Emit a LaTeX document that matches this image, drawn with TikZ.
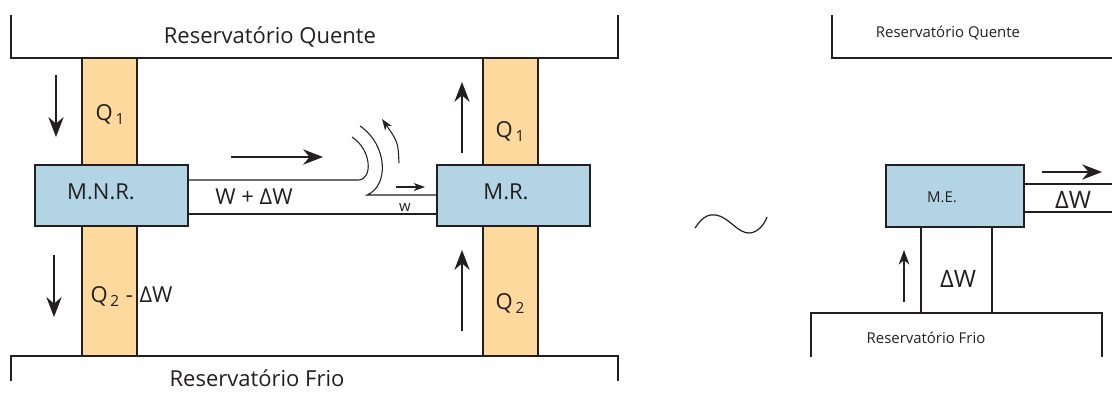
\documentclass[tikz,border=0pt]{standalone}
\usepackage{fontspec}
\setmainfont{Open Sans}
\usetikzlibrary{arrows.meta, positioning}

\definecolor{heatfill}{RGB}{253,217,158}
\definecolor{enginefill}{RGB}{179,212,228}
\definecolor{edge}{RGB}{35,31,32}
\newcommand{\lowidx}[1]{\kern2pt\raisebox{-3.5pt}{\fontsize{11.5}{12}\selectfont #1}}

\begin{document}
\begin{tikzpicture}[
    x=0.75pt, y=-0.75pt,
    line width=0.8pt, color=edge,
    column/.style = {rectangle, draw=edge, fill=heatfill, line width=0.9pt, outer sep=0pt, inner sep=0pt, minimum width=41.25pt},
    engine/.style = {rectangle, draw=edge, fill=enginefill, line width=0.9pt, outer sep=0pt, inner sep=0pt},
    lbl/.style = {inner sep=0pt, anchor=base, font=\fontsize{16.5}{19}\selectfont},
    smalltxt/.style = {inner sep=0pt, anchor=base, font=\fontsize{11.2}{13}\selectfont},
    bigtxt/.style = {inner sep=0pt, anchor=base, font=\fontsize{18}{21}\selectfont},
    bigarrow/.style = {-{Stealth[length=15pt, width=11.5pt, inset=5pt]}},
    midarrow/.style = {-{Stealth[length=11pt, width=8pt, inset=3.5pt]}},
    smallarrow/.style = {-{Stealth[length=8.5pt, width=6pt, inset=2.5pt]}},
    >=Stealth]

    \useasboundingbox (0,0) rectangle (1112,394);

    % left: irreversible engine driving the refrigerator
    \node[engine, minimum width=114.75pt, minimum height=45.75pt] (mnr) at (111.5,195.5) {};
    \node[engine, minimum width=114.75pt, minimum height=45.75pt] (mr) at (513.5,195.5) {};
    \node[column, minimum height=80.25pt, above=0pt of mnr, xshift=-1.5pt] (q1l) {};
    \node[column, minimum height=97.5pt, below=0pt of mnr, xshift=-1.5pt] (q2l) {};
    \node[column, minimum height=80.25pt, above=0pt of mr, xshift=-2.25pt] (q1r) {};
    \node[column, minimum height=97.5pt, below=0pt of mr, xshift=-2.25pt] (q2r) {};

    \draw (11,15) |- (618,58) -- (618,15);
    \draw (11,381) |- (618,356) -- (618,381);
    \node[lbl] (hotl) at (270,43) {Reservatório Quente};
    \node[lbl] (coldl) at (257,386) {Reservatório Frio};

    \node[lbl] at (101,199) {M.N.R.};
    \node[lbl] at (506,199) {M.R.};
    \node[lbl] at (110,120) {Q\lowidx{1}};
    \node[lbl] at (510,137) {Q\lowidx{1}};
    \node[lbl] at (510,309) {Q\lowidx{2}};
    \node[lbl, anchor=base west] at (90,302) {Q\lowidx{2}\hspace{5pt}-\hspace{5pt}ΔW};

    % shaft between the two machines
    \draw (mnr.east |- 0,180) -- (358,180) .. controls (373,180) and (372,150) .. (352,137);
    \draw (mr.west |- 0,195) -- (367,195) .. controls (389,186) and (388,145) .. (360,126);
    \draw (mnr.east |- 0,214) -- (mr.west |- 0,214);
    \node[lbl] at (254,204) {W + ΔW};
    \node[smalltxt] at (405,211) {w};

    \draw[bigarrow] (56,75) -- (56,137);
    \draw[bigarrow] (54,255) -- (54,317);
    \draw[bigarrow] (462,153) -- (462,82);
    \draw[bigarrow] (462,331) -- (462,250);
    \draw[bigarrow] (231,157) -- (323,157);
    \draw[smallarrow] (396,187) -- (425,187);
    \draw[smallarrow] (399,163) .. controls (398,142) .. (382,119);

    % equivalence
    \draw[line width=0.9pt] (695,228) .. controls (703,216) and (709,214) .. (716,215)
          .. controls (729,217) and (738,234) .. (750,233)
          .. controls (758,232) and (764,225) .. (767,217);

    % right: equivalent engine
    \node[engine, minimum width=103.5pt, minimum height=46.5pt] (me) at (955,196) {};
    \node[column, fill=white, minimum width=53.25pt, minimum height=64.5pt, below=0pt of me, xshift=1.1pt] (dw) {};
    \draw (832,15) |- (1112,58);
    \draw (811,357) |- (1102,313) -- (1102,357);
    \node[smalltxt] (hotr) at (948,37) {Reservatório Quente};
    \node[smalltxt] (coldr) at (926,343) {Reservatório Frio};
    \node[smalltxt] at (942,202) {M.E.};
    \draw (me.east |- 0,184) -- (1112,184);
    \draw (me.east |- 0,212) -- (1112,212);
    \node[bigtxt] at (1073,208) {ΔW};
    \node[bigtxt] at (958,287) {ΔW};
    \draw[bigarrow] (1042,172) -- (1102,172);
    \draw[midarrow] (904,302) -- (904,250);
\end{tikzpicture}
\end{document}
